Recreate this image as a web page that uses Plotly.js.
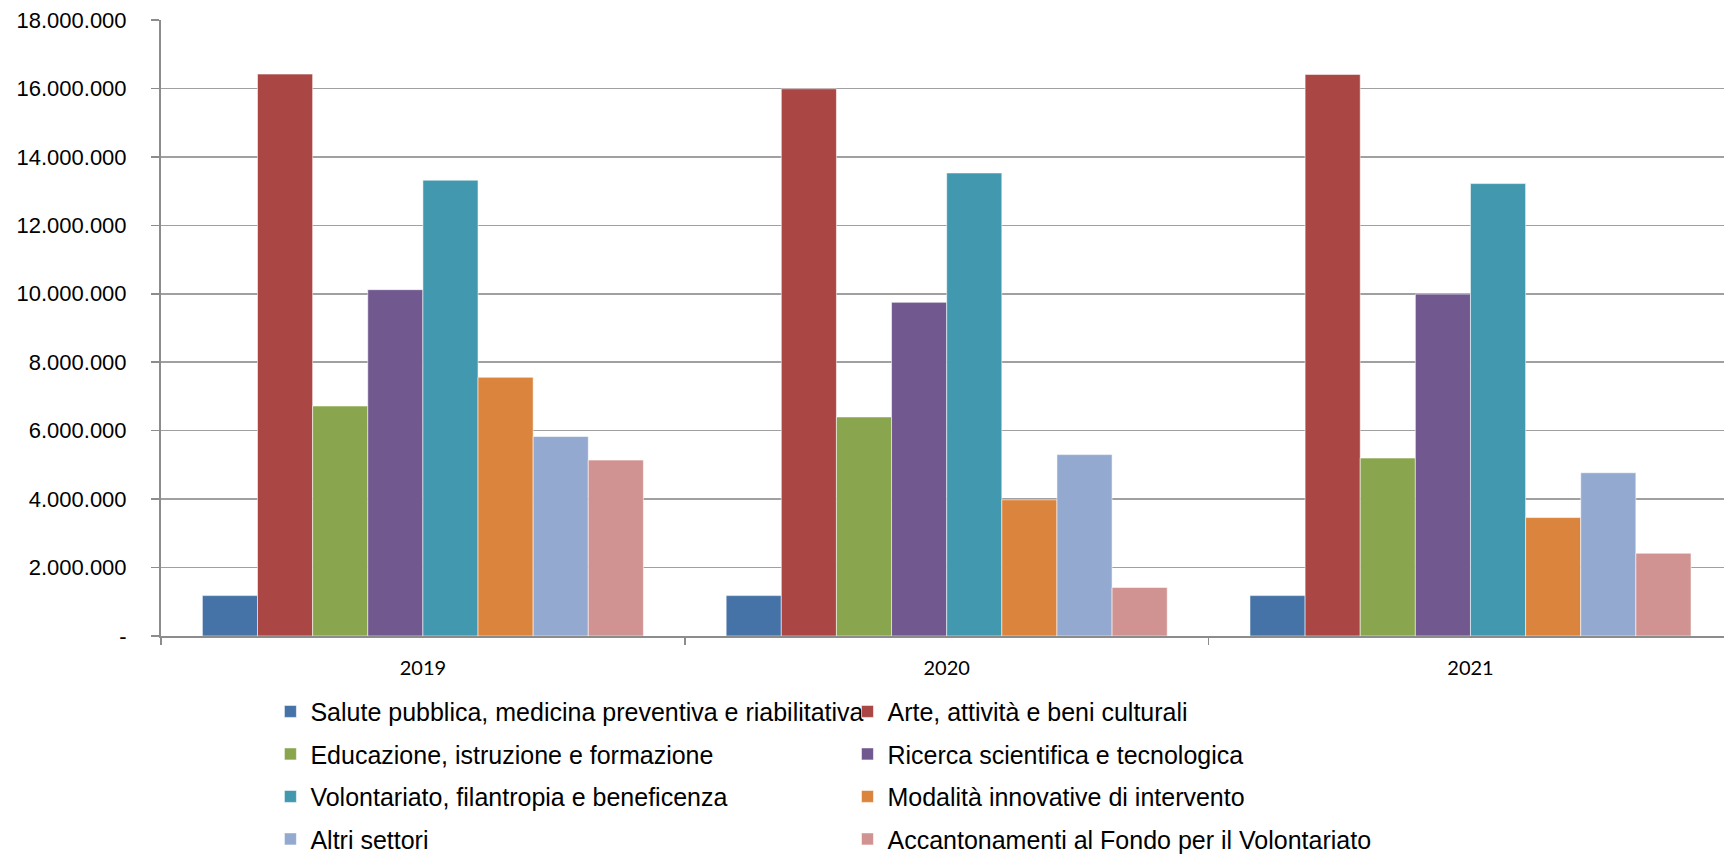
<!DOCTYPE html>
<html>
<head>
<meta charset="utf-8">
<script src="https://cdn.plot.ly/plotly-3.0.1.min.js"></script>
<style>
html, body { margin: 0; padding: 0; background: #fff; }
#chart { width: 1724px; height: 854px; }
</style>
</head>
<body>
<div id="chart"></div>
<script>
const years = ["2019", "2020", "2021"];

const seriesNames = [
  "Salute pubblica, medicina preventiva e riabilitativa",
  "Arte, attività e beni culturali",
  "Educazione, istruzione e formazione",
  "Ricerca scientifica e tecnologica",
  "Volontariato, filantropia e beneficenza",
  "Modalità innovative di intervento",
  "Altri settori",
  "Accantonamenti al Fondo per il Volontariato"
];

const salute = [1180000, 1180000, 1180000];
const arte = [16420000, 15990000, 16410000];
const educazione = [6720000, 6400000, 5200000];
const ricerca = [10120000, 9750000, 9990000];
const volontariato = [13320000, 13530000, 13220000];
const modalita = [7560000, 3980000, 3460000];
const altri = [5830000, 5300000, 4770000];
const accantonamenti = [5140000, 1420000, 2420000];

const seriesValues = [salute, arte, educazione, ricerca, volontariato, modalita, altri, accantonamenti];

const colors = ["#4572A7", "#AA4643", "#89A54E", "#71588F", "#4198AF", "#DB843D", "#93A9CF", "#D19392"];

const yTickVals = [0, 2000000, 4000000, 6000000, 8000000, 10000000, 12000000, 14000000, 16000000, 18000000];
const yTickText = ["-", "2.000.000", "4.000.000", "6.000.000", "8.000.000", "10.000.000", "12.000.000", "14.000.000", "16.000.000", "18.000.000"];

const traces = seriesNames.map((name, i) => ({
  type: "bar",
  name: name,
  x: years,
  y: seriesValues[i],
  legend: (i % 2 === 0) ? "legend" : "legend2",
  legendgroup: "g" + i,
  marker: { color: colors[i], line: { color: "rgba(255,255,255,0.55)", width: 1 } },
  hoverinfo: "x+y+name"
}));

const legendFont = { family: "'Liberation Sans', Arial, sans-serif", size: 25, color: "#000000" };

const layout = {
  width: 1724,
  height: 854,
  paper_bgcolor: "#ffffff",
  plot_bgcolor: "#ffffff",
  margin: { l: 161, r: 0, t: 20, b: 218, autoexpand: false },
  barmode: "group",
  bargap: 0.158,
  bargroupgap: 0,
  showlegend: true,
  xaxis: {
    type: "category",
    range: [-0.5, 2.484],
    tickson: "boundaries",
    ticks: "outside",
    ticklen: 7,
    tickwidth: 1.5,
    tickcolor: "#8c8c8c",
    showline: true,
    linecolor: "#8c8c8c",
    linewidth: 2,
    showgrid: false,
    zeroline: false,
    ticklabelstandoff: 13,
    tickfont: { family: "Lato, 'Open Sans', sans-serif", size: 20, color: "#000000" }
  },
  yaxis: {
    range: [0, 18000000],
    tickvals: yTickVals,
    ticktext: yTickText,
    ticks: "outside",
    ticklen: 8,
    tickwidth: 1.5,
    tickcolor: "#8c8c8c",
    showline: true,
    linecolor: "#8c8c8c",
    linewidth: 2,
    showgrid: true,
    gridcolor: "#a0a0a0",
    gridwidth: 1.5,
    zeroline: false,
    ticklabelstandoff: 20,
    tickfont: { family: "'Liberation Sans', Arial, sans-serif", size: 22, color: "#000000" }
  },
  legend: {
    orientation: "v",
    x: 0.070,
    xanchor: "left",
    y: -0.0855,
    yanchor: "top",
    traceorder: "grouped",
    tracegroupgap: 7,
    font: legendFont,
    bgcolor: "rgba(0,0,0,0)"
  },
  legend2: {
    orientation: "v",
    x: 0.4392,
    xanchor: "left",
    y: -0.0855,
    yanchor: "top",
    traceorder: "grouped",
    tracegroupgap: 7,
    font: legendFont,
    bgcolor: "rgba(0,0,0,0)"
  }
};

Plotly.newPlot("chart", traces, layout, { displayModeBar: false, staticPlot: true });
</script>
</body>
</html>
